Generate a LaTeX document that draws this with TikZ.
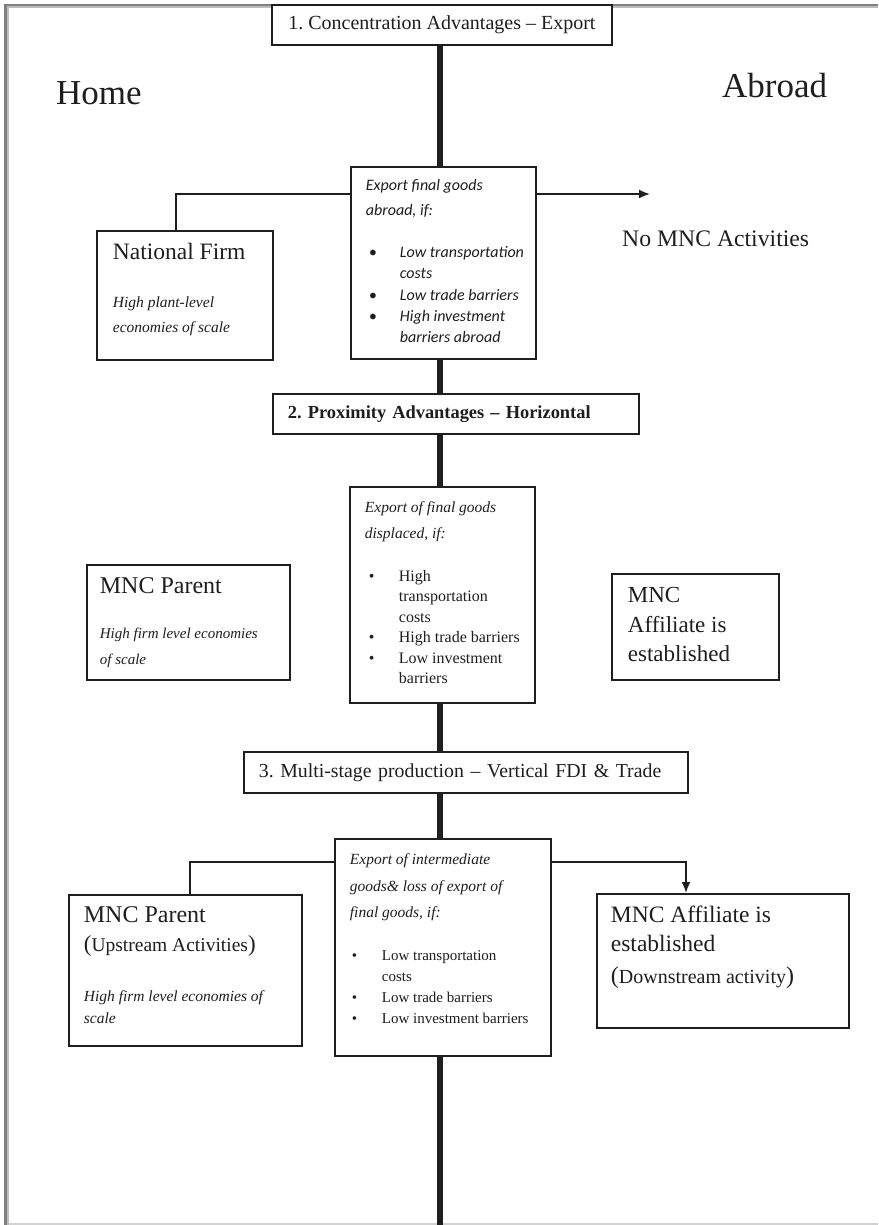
\documentclass[tikz,border=0pt]{standalone}
\usepackage{fontspec}
\setmainfont{Liberation Serif}
\newfontfamily\carl{Carlito}
\usetikzlibrary{arrows.meta}
\definecolor{ink}{HTML}{1E1E1E}
\definecolor{frameA}{HTML}{808080}
\definecolor{frameB}{HTML}{BDBDBD}
\definecolor{frameC}{HTML}{D2D2D2}
\newlength\bind
\newlength\boff
\newcommand\fs[2]{\fontsize{#1}{#2}\selectfont}
\newcommand\bitem[1]{\par\noindent\hangindent=\bind\hangafter=1\makebox[\bind][l]{\hspace{\boff}\textbullet}\strut#1}
\newcommand\bx[4]{\parbox[c][#2][t]{#1}{\raggedright\leftskip=#3\relax\frenchspacing #4}}
\begin{document}
\frenchspacing
\begin{tikzpicture}[x=1pt,y=-1pt,
  box/.style={draw=ink, line width=1.8pt, fill=white, inner sep=0pt, anchor=north west, text=ink},
  lbl/.style={inner sep=0pt, anchor=base west, text=ink},
  spine/.style={draw=ink, line width=6pt},
  conn/.style={draw=ink, line width=1.8pt},
  arr/.style={conn, -{Latex[length=11pt,width=9pt]}}]
\useasboundingbox (0,0) rectangle (878,1225);
% frame
\draw[frameA, line width=2.8pt] (5.8,1225) -- (5.8,5) -- (878,5);
\draw[frameB, line width=1.8pt] (8.1,1225) -- (8.1,7.3) -- (878,7.3);
\draw[frameC, line width=1.6pt] (9,1224) -- (878,1224);

% header boxes
\node[box, minimum width=340pt, minimum height=39.5pt, font=\fs{20}{24}] (b1) at (271,4.5) {1. Concentration Advantages – Export};
\node[box, minimum height=40pt, text width=336pt, inner xsep=15pt, align=left, font=\bfseries\fs{18.4}{23}] (b2) at (272,393) {2. Proximity Advantages – Horizontal};
\node[box, minimum height=41pt, text width=414pt, inner xsep=15pt, align=left, font=\fs{19.8}{24}] (b3) at (243,751) {3. Multi-stage production – Vertical FDI \& Trade};

% labels
\node[lbl, font=\fs{35}{40}] (home) at (56,105) {Home};
\node[lbl, font=\fs{35}{40}] (abroad) at (722,97.3) {Abroad};
\node[lbl, font=\fs{23.7}{27}] (nomnc) at (622,246) {No MNC Activities};

% level 1
\node[box] (exp) at (350,166) {\bx{185pt}{192pt}{15pt}{\setlength\bind{34pt}\setlength\boff{3pt}\carl\itshape\vspace*{6.5pt}\fs{16}{25}\strut Export final goods\\abroad, if:\par\vspace{20.5pt}\fs{16}{21.2}\bitem{Low transportation\newline costs}\bitem{Low trade barriers}\bitem{High investment\newline barriers abroad}}};
\node[box] (nf) at (96,230) {\bx{176pt}{129pt}{16pt}{\vspace*{9.4pt}\fs{23.5}{28}\strut National Firm\par\vspace{22.7pt}\fs{15.5}{25}\itshape High plant-level\\economies of scale}};

% level 2
\node[box] (disp) at (349,486) {\bx{185pt}{216pt}{15pt}{\setlength\bind{34pt}\setlength\boff{4pt}\vspace*{7.5pt}{\fs{15.5}{26}\itshape\strut Export of final goods\\displaced, if:\par}\vspace{22.2pt}\fs{16}{20.5}\bitem{High\newline transportation\newline costs}\bitem{High trade barriers}\bitem{Low investment\newline barriers}}};
\node[box] (mp2) at (86,564) {\bx{203pt}{115pt}{13pt}{\vspace*{9.4pt}\fs{24}{28}\strut MNC Parent\par\vspace{19pt}\fs{15}{26}\itshape High firm level economies\\of scale}};
\node[box] (ma2) at (611,573) {\bx{167pt}{106pt}{16pt}{\vspace*{8pt}\fs{23}{29.5}\strut MNC\\Affiliate is\\established}};

% level 3
\node[box] (inter) at (334,838) {\bx{216pt}{217pt}{15pt}{\setlength\bind{32pt}\setlength\boff{2pt}\vspace*{7.6pt}{\fs{15.5}{26.3}\itshape\strut Export of intermediate\\goods\& loss of export of\\final goods, if:\par}\vspace{22.5pt}\fs{15}{20.8}\bitem{Low transportation\newline costs}\bitem{Low trade barriers}\bitem{Low investment barriers}}};
\node[box] (mp3) at (68,894) {\bx{233pt}{151pt}{15pt}{\vspace*{8.1pt}\fs{24}{28}\strut MNC Parent\par\fs{19.5}{27.3}\strut{\fs{23}{27.3}(}Upstream Activities{\fs{23}{27.3})}\par\vspace{27.3pt}\fs{15.5}{22.7}\itshape High firm level economies of\\scale}};
\node[box] (ma3) at (596,893) {\bx{252pt}{134pt}{14pt}{\vspace*{8.4pt}\fs{23.5}{29}\strut MNC Affiliate is\\established\par\fs{20}{32.3}\strut{\fs{24}{32.3}(}Downstream activity{\fs{24}{32.3})}}};

% spine
\coordinate (sp) at (440,0);
\coordinate (bot) at (440,1225);
\draw[spine] (b1.south -| sp) -- (exp.north -| sp);
\draw[spine] (exp.south -| sp) -- (b2.north -| sp);
\draw[spine] (b2.south -| sp) -- (disp.north -| sp);
\draw[spine] (disp.south -| sp) -- (b3.north -| sp);
\draw[spine] (b3.south -| sp) -- (inter.north -| sp);
\draw[spine] (inter.south -| sp) -- (bot);

% connectors
\coordinate (j1) at (176,194);
\coordinate (a1) at (650,194);
\draw[conn] (j1 -| exp.west) -- (j1) -- (j1 |- nf.north);
\draw[arr] (a1 -| exp.east) -- (a1);
\coordinate (j2) at (190,862);
\coordinate (j3) at (686,862);
\draw[conn] (j2 -| inter.west) -- (j2) -- (j2 |- mp3.north);
\draw[arr] (j3 -| inter.east) -- (j3) -- (j3 |- ma3.north);
\end{tikzpicture}
\end{document}
